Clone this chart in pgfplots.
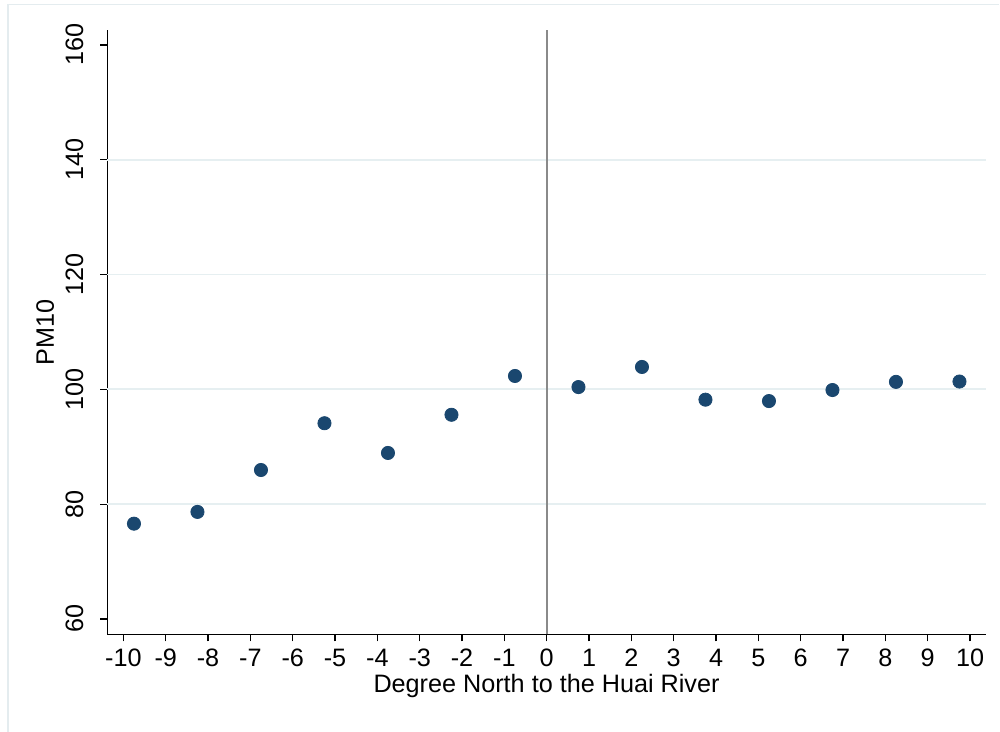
\documentclass[border=0pt]{standalone}
\usepackage{fontspec}
\setmainfont{Liberation Sans}
\usepackage{pgfplots}
\pgfplotsset{compat=1.18}
\definecolor{stnavy}{HTML}{1A476F}
\definecolor{gridc}{HTML}{E6EFF1}
\definecolor{vline}{HTML}{8A8A8A}
\definecolor{framec}{HTML}{E4ECEF}
\begin{document}
\begin{tikzpicture}[x=1pt,y=1pt]
\useasboundingbox (0,0) rectangle (500,366);
\draw[framec, line width=0.6pt] (4,0) -- (4,363.6) -- (499.5,363.6);
\begin{axis}[
 at={(53.65pt,48.85pt)}, anchor=south west,
 scale only axis, width=439.2pt, height=302.15pt,
 xmin=-10.38, xmax=10.37, ymin=57.33, ymax=162.6,
 axis lines=left, axis line style={-, line width=0.6pt, black},
 xtick={-10,...,10}, ytick={60,80,...,160},
 tick align=outside, major tick length=3.5pt,
 tick style={line width=0.6pt, black},
 extra y ticks={80,100,120,140}, extra y tick labels={},
 extra y tick style={grid=major, major tick length=0pt},
 grid style={gridc, line width=0.9pt},
 /pgf/number format/assume math mode=true,
 tick label style={font=\fontsize{12.6}{14}\selectfont},
 label style={font=\fontsize{12.6}{14}\selectfont},
 yticklabel style={rotate=90, anchor=south},
 yticklabel shift=4.9pt,
 xticklabel shift=0.5pt,
 xlabel={Degree North to the Huai River},
 ylabel={PM10},
 xlabel style={at={(axis description cs:0.5,0)}, anchor=base, yshift=-29.2pt},
 ylabel style={at={(axis description cs:-0.0607,0.5)}, anchor=base},
 clip=false,
]
\addplot[vline, line width=1.1pt] coordinates {(0,57.33) (0,162.6)};
\addplot[only marks, mark=*, mark size=3.3pt, mark options={fill=stnavy, draw=stnavy}] coordinates {
(-9.75,76.6) (-8.25,78.65) (-6.75,85.95) (-5.25,94.1) (-3.75,88.92) (-2.25,95.57) (-0.75,102.33)
(0.75,100.4) (2.25,103.9) (3.75,98.2) (5.25,97.96) (6.75,99.88) (8.25,101.3) (9.75,101.36)};
\end{axis}
\end{tikzpicture}
\end{document}
